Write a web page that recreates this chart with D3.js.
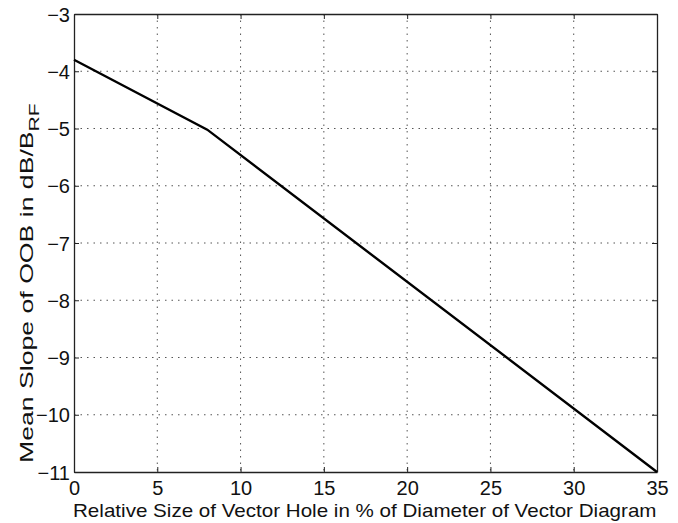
<!DOCTYPE html>
<html>
<head>
<meta charset="utf-8">
<script src="https://cdn.jsdelivr.net/npm/d3@7"></script>
<style>
  body { margin: 0; background: #fff; }
  text { font-family: "Liberation Sans", Arial, sans-serif; }
</style>
</head>
<body>
<svg width="678" height="523"></svg>
<script>
// data
const holeSize = [0, 8, 35];
const meanSlope = [-3.8, -5.02, -11];
const xTicks = [0, 5, 10, 15, 20, 25, 30, 35];
const yTicks = [-3, -4, -5, -6, -7, -8, -9, -10, -11];

const svg = d3.select('svg');
const mLeft = 74, mRight = 657, mTop = 14, mBottom = 472;

const x = d3.scaleLinear().domain([0, 35]).range([mLeft, mRight]);
const y = d3.scaleLinear().domain([-11, -3]).range([mBottom, mTop]);

// grid
const grid = svg.append('g')
  .attr('stroke', '#555')
  .attr('stroke-width', 1)
  .attr('stroke-dasharray', '1.5,5');

grid.selectAll('.gx')
  .data(xTicks.slice(1, -1))
  .join('line')
  .attr('x1', (d) => x(d)).attr('x2', (d) => x(d))
  .attr('y1', mTop).attr('y2', mBottom);

grid.selectAll('.gy')
  .data(yTicks.slice(1, -1))
  .join('line')
  .attr('y1', (d) => y(d)).attr('y2', (d) => y(d))
  .attr('x1', mLeft).attr('x2', mRight);

// axes (ticks pointing inward, box style)
const fmt = (d) => d < 0 ? '\u2212' + Math.abs(d) : d;

const xAxis = svg.append('g')
  .attr('transform', `translate(0,${mBottom})`)
  .call(d3.axisBottom(x).tickValues(xTicks).tickSizeInner(-5).tickSizeOuter(0).tickPadding(9).tickFormat(fmt));

const yAxis = svg.append('g')
  .attr('transform', `translate(${mLeft},0)`)
  .call(d3.axisLeft(y).tickValues(yTicks).tickSizeInner(-5).tickSizeOuter(0).tickPadding(4).tickFormat(fmt));

svg.append('g')
  .attr('transform', `translate(0,${mTop})`)
  .call(d3.axisTop(x).tickValues(xTicks).tickSizeInner(-5).tickSizeOuter(0).tickFormat(''));

svg.append('g')
  .attr('transform', `translate(${mRight},0)`)
  .call(d3.axisRight(y).tickValues(yTicks).tickSizeInner(-5).tickSizeOuter(0).tickFormat(''));

svg.selectAll('.domain').attr('stroke', '#222').attr('stroke-width', 1.3);
svg.selectAll('.tick line').attr('stroke', '#222');

xAxis.selectAll('text').style('font-size', '20px').attr('fill', '#111');
yAxis.selectAll('text').style('font-size', '20px').attr('fill', '#111').attr('dy', '0.36em');

// line
const line = d3.line()
  .x((d, i) => x(holeSize[i]))
  .y((d) => y(d));

svg.append('path')
  .datum(meanSlope)
  .attr('d', line)
  .attr('fill', 'none')
  .attr('stroke', '#000')
  .attr('stroke-width', 2.4);

// axis labels
const xl = svg.append('text')
  .attr('x', 73)
  .attr('y', 517)
  .style('font-size', '18px')
  .attr('fill', '#111')
  .text('Relative Size of Vector Hole in % of Diameter of Vector Diagram');
const xlw = xl.node().getComputedTextLength();
xl.attr('transform', `translate(73,0) scale(${584 / xlw},1) translate(-73,0)`);

const yl = svg.append('text')
  .style('font-size', '19px')
  .attr('fill', '#111');
yl.append('tspan').text('Mean Slope of OOB in dB/B');
yl.append('tspan').attr('dy', 6).style('font-size', '15px').text('RF');
const ylw = yl.node().getComputedTextLength();
yl.attr('transform', `translate(33,463) rotate(-90) scale(${360 / ylw},1)`);
</script>
</body>
</html>
